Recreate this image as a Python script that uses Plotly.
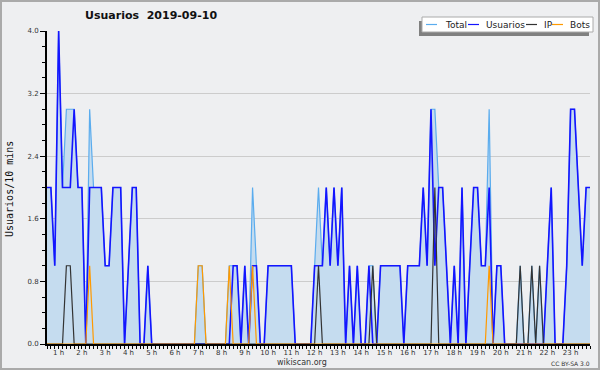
import plotly.graph_objects as go
import pandas as pd

# ---- data (10-minute buckets, 2019-09-10 00:30 .. 23:50) ----
times = pd.date_range("2019-09-10 00:30", "2019-09-10 23:50", freq="10min")

total = [2, 2, 1, 4, 2, 3, 3, 3, 2, 2,
         0, 3, 2, 2, 2, 1, 1, 2, 2, 2,
         0, 1, 2, 2, 0, 0, 1, 0, 0, 0,
         0, 0, 0, 0, 0, 0, 0, 0, 0, 1,
         1, 0, 0, 0, 0, 0, 0, 1, 1, 1,
         0, 1, 0, 2, 1, 0, 0, 1, 1, 1,
         1, 1, 1, 1, 0, 0, 0, 0, 0, 1,
         2, 1, 2, 1, 2, 1, 2, 0, 1, 0,
         1, 0, 0, 1, 1, 0, 1, 1, 1, 1,
         1, 1, 0, 1, 1, 1, 1, 2, 1, 3,
         3, 2, 2, 1, 0, 1, 0, 2, 0, 1,
         2, 2, 1, 1, 3, 0, 1, 1, 0, 0,
         0, 0, 1, 0, 0, 1, 0, 1, 0, 1,
         2, 0, 0, 0, 1, 3, 3, 2, 1, 2,
         2]

usuarios = [2, 2, 1, 4, 2, 2, 2, 3, 2, 2,
            0, 2, 2, 2, 2, 1, 1, 2, 2, 2,
            0, 1, 2, 2, 0, 0, 1, 0, 0, 0,
            0, 0, 0, 0, 0, 0, 0, 0, 0, 0,
            0, 0, 0, 0, 0, 0, 0, 0, 1, 1,
            0, 1, 0, 1, 1, 0, 0, 1, 1, 1,
            1, 1, 1, 1, 0, 0, 0, 0, 0, 1,
            1, 1, 2, 1, 2, 1, 2, 0, 1, 0,
            1, 0, 0, 1, 0, 0, 1, 1, 1, 1,
            1, 1, 0, 1, 1, 1, 1, 2, 1, 3,
            1, 2, 2, 1, 0, 1, 0, 2, 0, 1,
            2, 2, 1, 1, 2, 0, 1, 1, 0, 0,
            0, 0, 0, 0, 0, 0, 0, 0, 0, 1,
            2, 0, 0, 0, 1, 3, 3, 2, 1, 2,
            2]

ip = [0, 0, 0, 0, 0, 1, 1, 0, 0, 0,
      0, 0, 0, 0, 0, 0, 0, 0, 0, 0,
      0, 0, 0, 0, 0, 0, 0, 0, 0, 0,
      0, 0, 0, 0, 0, 0, 0, 0, 0, 0,
      0, 0, 0, 0, 0, 0, 0, 0, 0, 0,
      0, 0, 0, 0, 0, 0, 0, 0, 0, 0,
      0, 0, 0, 0, 0, 0, 0, 0, 0, 0,
      1, 0, 0, 0, 0, 0, 0, 0, 0, 0,
      0, 0, 0, 0, 1, 0, 0, 0, 0, 0,
      0, 0, 0, 0, 0, 0, 0, 0, 0, 0,
      2, 0, 0, 0, 0, 0, 0, 0, 0, 0,
      0, 0, 0, 0, 0, 0, 0, 0, 0, 0,
      0, 0, 1, 0, 0, 1, 0, 1, 0, 0,
      0, 0, 0, 0, 0, 0, 0, 0, 0, 0,
      0]

bots = [0, 0, 0, 0, 0, 0, 0, 0, 0, 0,
        0, 1, 0, 0, 0, 0, 0, 0, 0, 0,
        0, 0, 0, 0, 0, 0, 0, 0, 0, 0,
        0, 0, 0, 0, 0, 0, 0, 0, 0, 1,
        1, 0, 0, 0, 0, 0, 0, 1, 0, 0,
        0, 0, 0, 1, 0, 0, 0, 0, 0, 0,
        0, 0, 0, 0, 0, 0, 0, 0, 0, 0,
        0, 0, 0, 0, 0, 0, 0, 0, 0, 0,
        0, 0, 0, 0, 0, 0, 0, 0, 0, 0,
        0, 0, 0, 0, 0, 0, 0, 0, 0, 0,
        0, 0, 0, 0, 0, 0, 0, 0, 0, 0,
        0, 0, 0, 0, 1, 0, 0, 0, 0, 0,
        0, 0, 0, 0, 0, 0, 0, 0, 0, 0,
        0, 0, 0, 0, 0, 0, 0, 0, 0, 0,
        0]

series_names = ["Total", "Usuarios", "IP", "Bots"]
series_colors = ["#5aacee", "#1414ff", "#333333", "#ff9a00"]

title_text = "Usuarios  2019-09-10"
y_title = "Usuarios/10 mins"

# ---- layout geometry ----
W, H = 600, 370
ML, MR, MT, MB = 47, 10, 31, 26
PW, PH = W - ML - MR, H - MT - MB


def px(x):
    return (x - ML) / PW


def py(y):
    return (H - MB - y) / PH


fig = go.Figure()
fig.add_trace(go.Scatter(x=times, y=total, mode="lines", name="Total",
                         line=dict(color=series_colors[0], width=1.2),
                         fill="tozeroy", fillcolor="#c5dcef", showlegend=False))
fig.add_trace(go.Scatter(x=times, y=usuarios, mode="lines", name="Usuarios",
                         line=dict(color=series_colors[1], width=1.6), showlegend=False))
fig.add_trace(go.Scatter(x=times, y=ip, mode="lines", name="IP",
                         line=dict(color=series_colors[2], width=1.2), showlegend=False))
fig.add_trace(go.Scatter(x=times, y=bots, mode="lines", name="Bots",
                         line=dict(color=series_colors[3], width=1.2), showlegend=False))

shapes = []
annotations = []

# outer border
shapes.append(dict(type="rect", xref="paper", yref="paper",
                   x0=px(1), x1=px(W - 1), y0=py(H - 1), y1=py(1),
                   line=dict(color="#aaaaaa", width=2), fillcolor="rgba(0,0,0,0)", layer="above"))

# legend (shadow + box + items)
shapes.append(dict(type="rect", xref="paper", yref="paper",
                   x0=px(419), x1=px(589), y0=py(36), y1=py(21),
                   line=dict(width=0), fillcolor="#808080", layer="above"))
shapes.append(dict(type="rect", xref="paper", yref="paper",
                   x0=px(422), x1=px(593), y0=py(32), y1=py(17),
                   line=dict(color="#aaaaaa", width=1), fillcolor="white", layer="above"))
leg_line_x = [426, 468, 526, 552]
leg_text_x = [443, 484, 542, 568]
for name, col, lx, tx in zip(series_names, series_colors, leg_line_x, leg_text_x):
    shapes.append(dict(type="line", xref="paper", yref="paper",
                       x0=px(lx), x1=px(lx + 11), y0=py(24.5), y1=py(24.5),
                       line=dict(color=col, width=1.2), layer="above"))
    annotations.append(dict(text=name, xref="paper", yref="paper", x=px(tx), y=py(24.5),
                            xanchor="left", yanchor="middle", showarrow=False,
                            font=dict(family="DejaVu Sans", size=9, color="#222222")))

# title
annotations.append(dict(text="<b>" + title_text + "</b>", xref="paper", yref="paper",
                        x=px(151), y=py(16), xanchor="center", yanchor="middle", showarrow=False,
                        font=dict(family="DejaVu Sans", size=11, color="#111111")))
# y-axis title
annotations.append(dict(text=y_title, xref="paper", yref="paper", x=px(9), y=py(189),
                        xanchor="center", yanchor="middle", showarrow=False, textangle=-90,
                        font=dict(family="DejaVu Sans Mono", size=10, color="#111111")))
# x-axis footer
annotations.append(dict(text="wikiscan.org", xref="paper", yref="paper", x=px(302), y=py(362),
                        xanchor="center", yanchor="middle", showarrow=False,
                        font=dict(family="DejaVu Sans", size=8, color="#333333")))
annotations.append(dict(text="CC BY-SA 3.0", xref="paper", yref="paper", x=px(592), y=py(363),
                        xanchor="right", yanchor="middle", showarrow=False,
                        font=dict(family="DejaVu Sans", size=6, color="#333333")))

fig.update_layout(
    width=W, height=H,
    margin=dict(l=ML, r=MR, t=MT, b=MB, pad=0),
    paper_bgcolor="#eeeff1", plot_bgcolor="#eeeff1",
    shapes=shapes, annotations=annotations,
    showlegend=False,
    xaxis=dict(type="date", range=[times[0], times[-1]],
               tickformat="%-H h", dtick=3600000, tick0="2019-09-10 00:00",
               ticks="outside", ticklen=3, tickwidth=1, tickcolor="black",
               ticklabelstandoff=-2,
               showline=True, linecolor="black", linewidth=2, showgrid=False, zeroline=False,
               tickfont=dict(family="DejaVu Sans", size=7, color="#333333"),
               minor=dict(dtick=600000, ticks="outside", ticklen=3, tickcolor="black", showgrid=False)),
    yaxis=dict(range=[0, 4.0], dtick=0.8, tick0=0, tickformat=".1f",
               ticks="outside", ticklen=5, tickwidth=1, tickcolor="black",
               showline=True, linecolor="black", linewidth=2,
               showgrid=True, gridcolor="#cccccc", gridwidth=1, zeroline=False,
               tickfont=dict(family="DejaVu Sans", size=7, color="#333333"),
               minor=dict(dtick=0.2, ticks="outside", ticklen=3, tickcolor="black", showgrid=False)),
)

fig.write_html("out.html", config={"displayModeBar": False},
               post_script="document.body.style.margin='0';document.body.style.overflow='hidden';")
